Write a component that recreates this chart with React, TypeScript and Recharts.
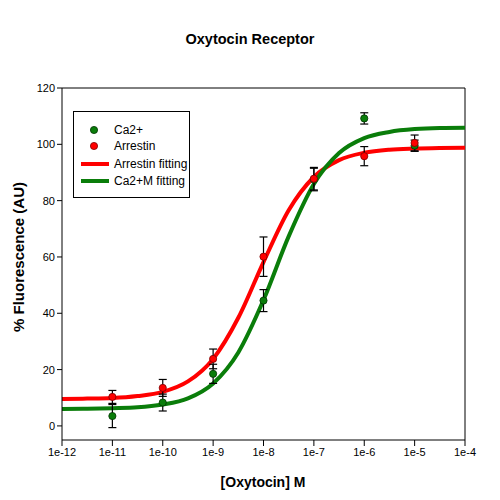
import React from "react";
import {
  ComposedChart,
  Line,
  Scatter,
  ErrorBar,
  XAxis,
  YAxis,
  ReferenceLine,
} from "recharts";

// measured doses (M)
const doses = [1e-11, 1e-10, 1e-9, 1e-8, 1e-7, 1e-6, 1e-5];
// Ca2+ response
const caValues = [3.5, 8.3, 18.5, 44.5, 87.5, 109.2, 99.5];
const caErrors = [4.1, 3, 3.4, 3.9, 4, 2, 2];
// Arrestin response
const arrValues = [10.3, 13.5, 23.8, 60.1, 87.8, 95.8, 100.5];
const arrErrors = [2.3, 3, 3.5, 7, 4, 3.4, 2.8];

// fitted curves, read at half-decade steps (log10 of dose)
const fitLogDose = [-12, -11.5, -11, -10.5, -10, -9.5, -9, -8.5, -8, -7.5, -7, -6.5, -6, -5.5, -5, -4.5, -4];
const arrFit = [9.6, 9.7, 9.9, 10.6, 12.1, 15.8, 23.8, 38.4, 58.2, 76.6, 88.4, 94.4, 97.0, 98.1, 98.5, 98.7, 98.8];
const caFit = [6.0, 6.1, 6.3, 6.6, 7.6, 9.8, 15.1, 26.1, 44.7, 67.3, 85.9, 96.9, 102.2, 104.4, 105.4, 105.8, 105.9];

const xTicks = [1e-12, 1e-11, 1e-10, 1e-9, 1e-8, 1e-7, 1e-6, 1e-5, 1e-4];
const yTicks = [0, 20, 40, 60, 80, 100, 120];

const RED = "#ff0000";
const GREEN = "#0a7d0a";
const FONT = "'Liberation Sans', Arial, sans-serif";

const caData = doses.map((d, i) => ({ x: d, y: caValues[i], err: caErrors[i] }));
const arrData = doses.map((d, i) => ({ x: d, y: arrValues[i], err: arrErrors[i] }));
const arrFitData = fitLogDose.map((l, i) => ({ x: Math.pow(10, l), y: arrFit[i] }));
const caFitData = fitLogDose.map((l, i) => ({ x: Math.pow(10, l), y: caFit[i] }));

const dot = (fill: string, stroke: string) => (props: any) => (
  <circle cx={props.cx} cy={props.cy} r={3.6} fill={fill} stroke={stroke} strokeWidth={0.8} />
);

const legendRows = [
  { kind: "dot", color: GREEN, stroke: "#003300", label: "Ca2+" },
  { kind: "dot", color: RED, stroke: "#7a0000", label: "Arrestin" },
  { kind: "line", color: RED, label: "Arrestin fitting" },
  { kind: "line", color: GREEN, label: "Ca2+M fitting" },
];
const rowCenters = [18, 34, 52, 69];

const LegendBox = () => (
  <div
    style={{
      position: "absolute",
      left: 73,
      top: 111,
      width: 117,
      height: 87,
      border: "1px solid #000",
      boxSizing: "border-box",
      background: "#fff",
      fontFamily: FONT,
      fontSize: 12,
    }}
  >
    {legendRows.map((r, i) => (
      <div key={r.label} style={{ position: "absolute", left: 0, top: rowCenters[i] - 8, height: 16, width: 117 }}>
        <svg width={40} height={16} style={{ position: "absolute", left: 0, top: 0 }}>
          {r.kind === "dot" ? (
            <circle cx={20} cy={8} r={3.6} fill={r.color} stroke={r.stroke} strokeWidth={0.8} />
          ) : (
            <line x1={7} x2={35} y1={8} y2={8} stroke={r.color} strokeWidth={4} />
          )}
        </svg>
        <span style={{ position: "absolute", left: 40, top: 0, lineHeight: "16px", color: "#000" }}>{r.label}</span>
      </div>
    ))}
  </div>
);

export default function App() {
  return (
    <div style={{ position: "absolute", left: 0, top: 0, width: 500, height: 500, background: "#fff", fontFamily: FONT }}>
      <div style={{ position: "absolute", top: 31, left: 0, width: 500, textAlign: "center", fontSize: 14.5, fontWeight: "bold" }}>
        Oxytocin Receptor
      </div>
      <ComposedChart width={500} height={500} margin={{ top: 88, right: 35, left: 0, bottom: 0 }}>
        <XAxis
          dataKey="x"
          type="number"
          scale="log"
          domain={[1e-12, 1e-4]}
          ticks={xTicks}
          allowDataOverflow
          height={60}
          tickSize={6}
          stroke="#000"
          tick={{ fill: "#000", fontSize: 11, fontFamily: FONT }}
          tickFormatter={(v: number) => `1e${Math.round(Math.log10(v))}`}
        />
        <YAxis
          type="number"
          domain={[-5, 120]}
          ticks={yTicks}
          width={62}
          tickSize={5}
          stroke="#000"
          tick={{ fill: "#000", fontSize: 11, fontFamily: FONT }}
        />
        <ReferenceLine y={120} stroke="#000" strokeWidth={1} />
        <ReferenceLine x={1e-4} stroke="#000" strokeWidth={1} />
        <Line data={arrFitData} dataKey="y" type="monotone" stroke={RED} strokeWidth={4} dot={false} isAnimationActive={false} />
        <Line data={caFitData} dataKey="y" type="monotone" stroke={GREEN} strokeWidth={4} dot={false} isAnimationActive={false} />
        <Scatter data={caData} dataKey="y" shape={dot(GREEN, "#003300")} isAnimationActive={false}>
          <ErrorBar dataKey="err" direction="y" stroke="#000" strokeWidth={1.2} width={4} />
        </Scatter>
        <Scatter data={arrData} dataKey="y" shape={dot(RED, "#7a0000")} isAnimationActive={false}>
          <ErrorBar dataKey="err" direction="y" stroke="#000" strokeWidth={1.2} width={4} />
        </Scatter>
      </ComposedChart>
      <LegendBox />
      <div style={{ position: "absolute", top: 474, left: 163, width: 200, textAlign: "center", fontSize: 14, fontWeight: "bold" }}>
        [Oxytocin] M
      </div>
      <div
        style={{
          position: "absolute",
          left: 18,
          top: 257,
          transform: "translate(-50%, -50%) rotate(-90deg)",
          whiteSpace: "nowrap",
          fontSize: 15,
          fontWeight: "bold",
        }}
      >
        % Fluorescence (AU)
      </div>
    </div>
  );
}
